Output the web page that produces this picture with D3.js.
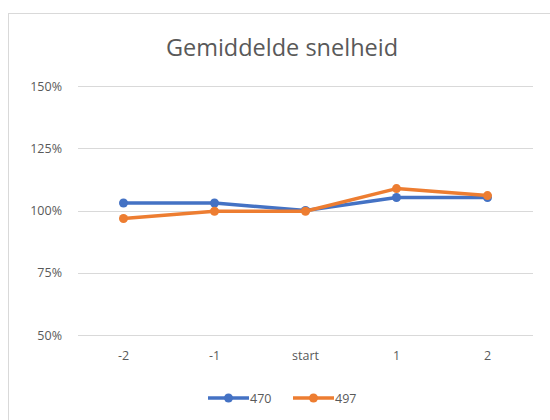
<!DOCTYPE html>
<html>
<head>
<meta charset="utf-8">
<script src="https://cdn.jsdelivr.net/npm/d3@7"></script>
<style>
  html, body { margin: 0; padding: 0; background: #fff; }
  svg { display: block; }
</style>
</head>
<body>
<svg id="chart" width="550" height="420"></svg>
<script>
// Categories along the x axis
const categories = ["-2", "-1", "start", "1", "2"];
// Average speed per run, in percent of the start value
const series470 = [103, 103, 100, 105.2, 105.2];
const series497 = [96.8, 99.7, 99.7, 108.8, 106];
// Y axis ticks
const yTicks = [50, 75, 100, 125, 150];
const seriesNames = ["470", "497"];
const seriesColors = ["#4472C4", "#ED7D31"];

const svg = d3.select("#chart");
const W = 550, H = 420;
const font = "'Open Sans', 'Segoe UI', sans-serif";

// Chart frame
svg.append("rect")
  .attr("x", 8.5).attr("y", 13.5)
  .attr("width", W + 10).attr("height", H + 10)
  .attr("fill", "#fff").attr("stroke", "#d9d9d9").attr("stroke-width", 1);

const plot = { left: 78, right: 533, top: 86, bottom: 335 };

const x = d3.scaleBand().domain(categories).range([plot.left, plot.right]);
const y = d3.scaleLinear().domain([50, 150]).range([plot.bottom, plot.top]);

// Title
svg.append("text")
  .attr("x", 282).attr("y", 56)
  .attr("text-anchor", "middle")
  .attr("font-family", font).attr("font-size", 23.5)
  .attr("fill", "#595959")
  .text("Gemiddelde snelheid");

// Horizontal gridlines
svg.append("g").selectAll("line").data(yTicks).join("line")
  .attr("x1", plot.left).attr("x2", plot.right)
  .attr("y1", d => Math.round(y(d)) + 0.5).attr("y2", d => Math.round(y(d)) + 0.5)
  .attr("stroke", "#d9d9d9").attr("stroke-width", 1);

// Y axis labels
const yAxis = d3.axisLeft(y).tickValues(yTicks).tickFormat(d => d + "%").tickSize(0).tickPadding(0);
const gy = svg.append("g").attr("transform", `translate(${plot.left - 16},0)`).call(yAxis);
gy.select(".domain").remove();
gy.selectAll("text").attr("font-family", font).attr("font-size", 12.5).attr("fill", "#595959");

// X axis labels
const xAxis = d3.axisBottom(x).tickSize(0).tickPadding(0);
const gx = svg.append("g").attr("transform", `translate(0,${plot.bottom + 16})`).call(xAxis);
gx.select(".domain").remove();
gx.selectAll("text").attr("font-family", font).attr("font-size", 12.5).attr("fill", "#595959");

const cx = d => x(d) + x.bandwidth() / 2;
const line = d3.line().x((d, i) => cx(categories[i])).y(d => y(d));

[series470, series497].forEach((vals, s) => {
  const g = svg.append("g");
  g.append("path").datum(vals)
    .attr("d", line)
    .attr("fill", "none")
    .attr("stroke", seriesColors[s])
    .attr("stroke-width", 3.5)
    .attr("stroke-linejoin", "round");
  g.selectAll("circle").data(vals).join("circle")
    .attr("cx", (d, i) => cx(categories[i]))
    .attr("cy", d => y(d))
    .attr("r", 4.5)
    .attr("fill", seriesColors[s]);
});

// Legend
const legend = svg.append("g").attr("transform", "translate(208,398)");
const legendX = [0, 85];
seriesNames.forEach((name, s) => {
  const lg = legend.append("g").attr("transform", `translate(${legendX[s]},0)`);
  lg.append("line").attr("x1", 0).attr("x2", 41).attr("y1", 0).attr("y2", 0)
    .attr("stroke", seriesColors[s]).attr("stroke-width", 3.5);
  lg.append("circle").attr("cx", 20.5).attr("cy", 0).attr("r", 4.5).attr("fill", seriesColors[s]);
  lg.append("text").attr("x", 42).attr("y", 4.5)
    .attr("font-family", font).attr("font-size", 12.5).attr("fill", "#595959")
    .text(name);
});
</script>
</body>
</html>
